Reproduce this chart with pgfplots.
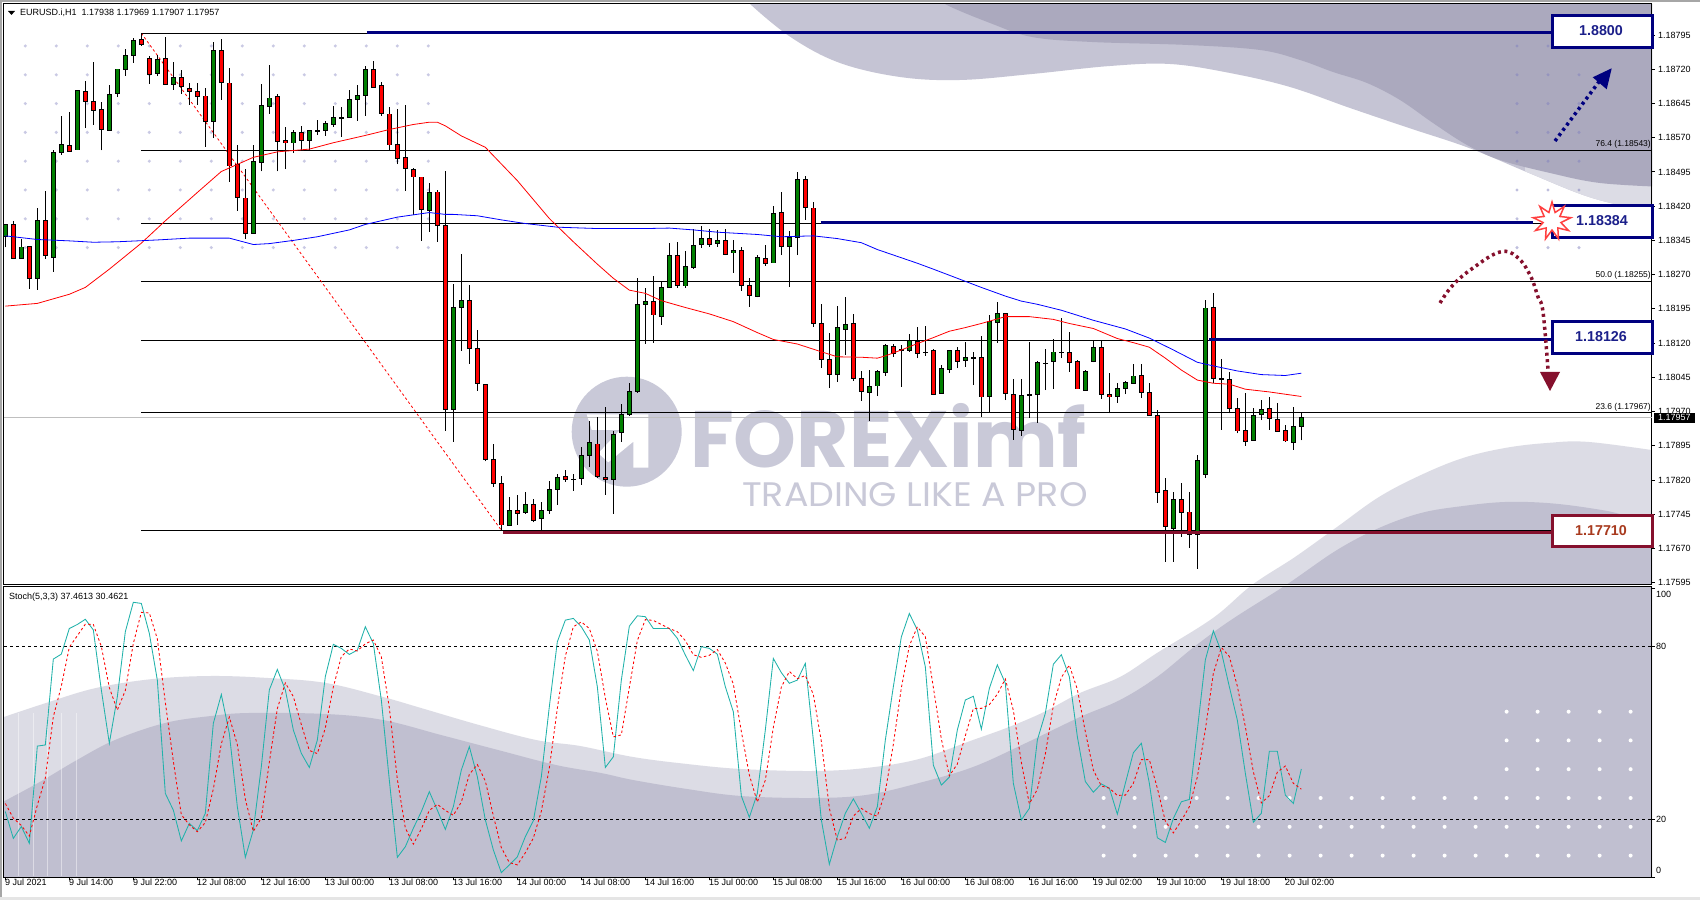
\documentclass[border=0pt]{standalone}
\usepackage{pgfplots}
\usepackage{pgfplotstable}
\usepackage{fontspec}
\setmainfont{Liberation Sans}
\newfontfamily\wmfont{Poppins}
\pgfplotsset{compat=1.18}
\usetikzlibrary{shapes.geometric}
\definecolor{navyl}{HTML}{00007F}
\definecolor{navyt}{HTML}{1B1F8A}
\definecolor{maroonl}{HTML}{85102D}
\definecolor{maroont}{HTML}{A83A1E}
\definecolor{wavedark}{HTML}{ABA9BE}
\definecolor{waveband}{HTML}{C5C4D4}
\definecolor{wavepale}{HTML}{DCDCE5}
\definecolor{wavemid}{HTML}{C0BFD0}
\definecolor{wmark}{HTML}{C9C9D8}
\definecolor{cgreen}{HTML}{008000}
\definecolor{cteal}{HTML}{20B2AA}
\newcommand{\fs}[1]{\fontsize{#1}{#1}\selectfont}
\pgfplotstableread{
i o h l c
0 1.18355 1.18381 1.18330 1.18381
1 1.18380 1.18388 1.18304 1.18306
2 1.18307 1.18348 1.18307 1.18332
3 1.18332 1.18332 1.18239 1.18263
4 1.18263 1.18415 1.18237 1.18390
5 1.18390 1.18453 1.18305 1.18312
6 1.18309 1.18543 1.18276 1.18538
7 1.18537 1.18618 1.18533 1.18555
8 1.18555 1.18626 1.18542 1.18542
9 1.18544 1.18674 1.18544 1.18674
10 1.18672 1.18694 1.18591 1.18649
11 1.18650 1.18736 1.18598 1.18631
12 1.18632 1.18648 1.18542 1.18588
13 1.18588 1.18686 1.18585 1.18667
14 1.18667 1.18720 1.18659 1.18720
15 1.18721 1.18764 1.18706 1.18751
16 1.18751 1.18789 1.18734 1.18783
17 1.18786 1.18799 1.18771 1.18776
18 1.18744 1.18748 1.18688 1.18710
19 1.18710 1.18751 1.18705 1.18742
20 1.18744 1.18791 1.18686 1.18686
21 1.18686 1.18736 1.18675 1.18702
22 1.18702 1.18718 1.18666 1.18682
23 1.18678 1.18689 1.18642 1.18671
24 1.18672 1.18689 1.18642 1.18662
25 1.18663 1.18678 1.18550 1.18608
26 1.18605 1.18779 1.18569 1.18761
27 1.18761 1.18786 1.18653 1.18691
28 1.18691 1.18722 1.18474 1.18509
29 1.18512 1.18554 1.18410 1.18439
30 1.18439 1.18501 1.18348 1.18361
31 1.18361 1.18554 1.18361 1.18518
32 1.18517 1.18687 1.18496 1.18641
33 1.18640 1.18729 1.18622 1.18658
34 1.18661 1.18665 1.18496 1.18564
35 1.18564 1.18593 1.18501 1.18559
36 1.18559 1.18588 1.18537 1.18582
37 1.18582 1.18596 1.18543 1.18564
38 1.18564 1.18586 1.18543 1.18586
39 1.18586 1.18608 1.18577 1.18586
40 1.18586 1.18606 1.18574 1.18602
41 1.18599 1.18639 1.18594 1.18615
42 1.18615 1.18637 1.18572 1.18615
43 1.18615 1.18675 1.18615 1.18654
44 1.18654 1.18686 1.18607 1.18663
45 1.18663 1.18727 1.18618 1.18720
46 1.18720 1.18738 1.18682 1.18682
47 1.18685 1.18692 1.18618 1.18623
48 1.18623 1.18637 1.18543 1.18555
49 1.18555 1.18634 1.18512 1.18525
50 1.18527 1.18641 1.18454 1.18503
51 1.18501 1.18503 1.18401 1.18485
52 1.18485 1.18485 1.18344 1.18413
53 1.18413 1.18471 1.18364 1.18452
54 1.18452 1.18455 1.18342 1.18378
55 1.18378 1.18497 1.17928 1.17975
56 1.17975 1.18249 1.17904 1.18198
57 1.18198 1.18315 1.18103 1.18214
58 1.18214 1.18247 1.18075 1.18109
59 1.18109 1.18149 1.18016 1.18032
60 1.18030 1.18030 1.17861 1.17865
61 1.17865 1.17899 1.17805 1.17813
62 1.17813 1.17829 1.17710 1.17722
63 1.17722 1.17782 1.17722 1.17754
64 1.17754 1.17787 1.17722 1.17749
65 1.17749 1.17794 1.17746 1.17767
66 1.17767 1.17778 1.17727 1.17733
67 1.17736 1.17772 1.17710 1.17754
68 1.17753 1.17818 1.17746 1.17800
69 1.17800 1.17833 1.17766 1.17827
70 1.17827 1.17842 1.17816 1.17821
71 1.17823 1.17833 1.17797 1.17823
72 1.17823 1.17892 1.17810 1.17874
73 1.17874 1.17949 1.17849 1.17903
74 1.17900 1.17957 1.17825 1.17828
75 1.17827 1.17979 1.17788 1.17823
76 1.17823 1.17927 1.17746 1.17922
77 1.17924 1.17986 1.17904 1.17965
78 1.17964 1.18033 1.17960 1.18014
79 1.18014 1.18262 1.18011 1.18205
80 1.18206 1.18240 1.18119 1.18211
81 1.18211 1.18268 1.18121 1.18182
82 1.18180 1.18255 1.18160 1.18242
83 1.18242 1.18339 1.18242 1.18312
84 1.18312 1.18341 1.18241 1.18246
85 1.18246 1.18321 1.18241 1.18288
86 1.18288 1.18371 1.18283 1.18336
87 1.18336 1.18376 1.18328 1.18350
88 1.18350 1.18369 1.18331 1.18338
89 1.18338 1.18367 1.18331 1.18345
90 1.18347 1.18371 1.18313 1.18316
91 1.18319 1.18345 1.18274 1.18323
92 1.18323 1.18330 1.18235 1.18247
93 1.18247 1.18262 1.18200 1.18225
94 1.18222 1.18312 1.18220 1.18308
95 1.18306 1.18334 1.18290 1.18294
96 1.18297 1.18420 1.18297 1.18406
97 1.18406 1.18452 1.18313 1.18333
98 1.18333 1.18366 1.18244 1.18352
99 1.18352 1.18494 1.18313 1.18479
100 1.18479 1.18486 1.18390 1.18417
101 1.18417 1.18429 1.18156 1.18163
102 1.18163 1.18206 1.18066 1.18084
103 1.18084 1.18142 1.18022 1.18052
104 1.18052 1.18201 1.18035 1.18155
105 1.18152 1.18221 1.18094 1.18163
106 1.18163 1.18184 1.18038 1.18043
107 1.18043 1.18059 1.17994 1.18016
108 1.18014 1.18061 1.17950 1.18027
109 1.18027 1.18061 1.18004 1.18059
110 1.18057 1.18118 1.18048 1.18116
111 1.18113 1.18118 1.18090 1.18098
112 1.18105 1.18115 1.18024 1.18105
113 1.18103 1.18139 1.18101 1.18125
114 1.18125 1.18156 1.18087 1.18099
115 1.18100 1.18157 1.18092 1.18100
116 1.18104 1.18106 1.18006 1.18008
117 1.18010 1.18073 1.18010 1.18065
118 1.18064 1.18104 1.18055 1.18104
119 1.18104 1.18111 1.18065 1.18081
120 1.18081 1.18122 1.18068 1.18089
121 1.18088 1.18100 1.18028 1.18088
122 1.18089 1.18135 1.17959 1.18003
123 1.18003 1.18181 1.17969 1.18168
124 1.18167 1.18210 1.18121 1.18185
125 1.18185 1.18187 1.17995 1.18009
126 1.18008 1.18041 1.17908 1.17930
127 1.17930 1.18041 1.17917 1.18005
128 1.18007 1.18122 1.17956 1.18007
129 1.18007 1.18080 1.17945 1.18078
130 1.18077 1.18107 1.18017 1.18077
131 1.18079 1.18130 1.18019 1.18100
132 1.18100 1.18174 1.18087 1.18100
133 1.18100 1.18144 1.18057 1.18077
134 1.18081 1.18083 1.18020 1.18020
135 1.18017 1.18060 1.18016 1.18060
136 1.18082 1.18125 1.18078 1.18111
137 1.18111 1.18125 1.17998 1.18007
138 1.18008 1.18054 1.17966 1.18003
139 1.18003 1.18032 1.17989 1.18021
140 1.18020 1.18038 1.18008 1.18034
141 1.18033 1.18074 1.18033 1.18049
142 1.18049 1.18074 1.18000 1.18011
143 1.18012 1.18032 1.17961 1.17961
144 1.17962 1.17973 1.17770 1.17794
145 1.17797 1.17824 1.17641 1.17718
146 1.17715 1.17793 1.17641 1.17778
147 1.17778 1.17813 1.17696 1.17750
148 1.17751 1.17793 1.17672 1.17701
149 1.17701 1.17874 1.17626 1.17863
150 1.17834 1.18214 1.17825 1.18198
151 1.18198 1.18229 1.18032 1.18043
152 1.18042 1.18086 1.17930 1.18042
153 1.18040 1.18056 1.17966 1.17977
154 1.17977 1.17999 1.17922 1.17928
155 1.17929 1.18010 1.17895 1.17905
156 1.17906 1.17977 1.17906 1.17962
157 1.17964 1.17995 1.17951 1.17975
158 1.17977 1.18001 1.17930 1.17955
159 1.17954 1.17988 1.17928 1.17928
160 1.17929 1.17940 1.17904 1.17906
161 1.17904 1.17979 1.17886 1.17938
162 1.17938 1.17969 1.17907 1.17957
}\candles
\pgfplotstableread{
i v
0 1.18201
4 1.18207
8 1.18227
10 1.18242
13 1.18282
17 1.18339
20 1.18388
24 1.18450
27 1.18496
31 1.18527
34 1.18539
38 1.18545
41 1.18559
45 1.18575
48 1.18588
51 1.18599
53 1.18604
54 1.18604
55 1.18596
57 1.18574
60 1.18549
64 1.18476
68 1.18393
71 1.18342
74 1.18293
76 1.18262
78 1.18236
80 1.18229
82 1.18213
85 1.18198
88 1.18184
91 1.18167
94 1.18143
96 1.18128
99 1.18118
102 1.18101
104 1.18090
107 1.18089
109 1.18087
110 1.18092
112 1.18105
114 1.18119
116 1.18132
118 1.18146
120 1.18154
122 1.18163
124 1.18173
125 1.18178
128 1.18178
131 1.18172
133 1.18163
136 1.18152
139 1.18130
141 1.18121
143 1.18111
145 1.18087
147 1.18061
149 1.18039
151 1.18032
153 1.18030
155 1.18019
158 1.18013
160 1.18008
162 1.18003
}\mared
\pgfplotstableread{
i v
0 1.18355
4 1.18347
8 1.18344
11 1.18341
14 1.18342
19 1.18346
23 1.18350
28 1.18350
31 1.18336
33 1.18338
36 1.18345
39 1.18353
43 1.18368
45 1.18380
49 1.18396
53 1.18406
55 1.18402
56 1.18402
59 1.18399
62 1.18390
65 1.18382
69 1.18374
74 1.18371
80 1.18371
83 1.18372
86 1.18368
89 1.18363
94 1.18358
97 1.18353
101 1.18355
104 1.18349
107 1.18340
109 1.18325
114 1.18295
116 1.18282
119 1.18262
122 1.18242
125 1.18223
127 1.18212
129 1.18205
132 1.18192
136 1.18170
140 1.18151
143 1.18131
146 1.18105
149 1.18078
151 1.18070
154 1.18059
157 1.18051
160 1.18049
162 1.18054
}\mablue
\pgfplotstableread{
i m s
0 22.7 25.5
1 13.4 20.4
2 17.5 17.9
3 11.7 14.2
4 45.4 24.9
5 45.8 34.3
6 75.6 55.6
7 77.3 66.2
8 86.2 79.7
9 87.6 83.7
10 89.4 87.7
11 85.7 87.6
12 64.9 80.0
13 46.4 65.7
14 62.5 57.9
15 85.1 64.7
16 95.3 81.0
17 94.9 91.8
18 84.5 91.6
19 68.3 82.6
20 29.0 60.6
21 23.2 40.2
22 12.5 21.6
23 18.6 18.1
24 16.1 15.7
25 22.1 18.9
26 53.3 30.5
27 63.3 46.2
28 49.8 55.5
29 24.4 45.9
30 6.8 27.0
31 16.3 15.8
32 38.3 20.5
33 64.9 39.8
34 72.0 58.4
35 64.9 67.3
36 51.0 62.6
37 42.9 52.9
38 38.0 43.9
39 47.5 42.8
40 69.5 51.7
41 80.7 65.9
42 79.3 76.5
43 77.2 79.1
44 78.7 78.4
45 86.8 80.9
46 81.0 82.2
47 61.4 76.4
48 33.6 58.7
49 6.8 33.9
50 10.5 17.0
51 16.9 11.4
52 22.7 16.7
53 29.6 23.1
54 23.2 25.2
55 16.5 23.1
56 24.4 21.4
57 37.1 26.0
58 45.2 35.6
59 34.8 39.0
60 19.8 33.3
61 9.4 21.3
62 1.5 10.2
63 4.2 5.0
64 7.0 4.2
65 14.0 8.4
66 19.5 13.5
67 34.8 22.8
68 59.1 37.8
69 81.6 58.5
70 89.1 76.6
71 89.7 86.8
72 86.8 88.5
73 82.2 86.2
74 66.0 78.3
75 38.0 62.1
76 41.7 48.6
77 68.3 49.3
78 87.0 65.7
79 90.6 82.0
80 90.3 89.3
81 86.2 89.0
82 86.2 87.6
83 86.2 86.2
84 82.8 85.1
85 77.0 82.0
86 71.6 77.1
87 79.9 76.2
88 79.3 76.9
89 77.3 78.9
90 66.0 74.2
91 57.3 66.9
92 28.1 50.5
93 20.7 35.4
94 29.0 26.0
95 51.0 33.6
96 75.8 51.9
97 70.9 65.9
98 67.2 71.3
99 68.3 68.8
100 74.1 69.9
101 47.5 63.3
102 19.8 47.1
103 4.4 23.9
104 14.0 12.7
105 22.1 13.5
106 27.1 21.1
107 22.1 23.8
108 16.9 22.0
109 24.4 21.1
110 47.5 29.6
111 66.0 46.0
112 83.3 65.6
113 91.4 80.2
114 85.7 86.8
115 72.9 83.3
116 38.8 65.8
117 31.9 47.9
118 34.6 35.1
119 51.0 39.2
120 61.4 49.0
121 62.7 58.4
122 51.3 58.5
123 65.4 59.8
124 73.6 63.4
125 67.2 68.7
126 32.5 57.8
127 19.8 39.8
128 23.8 25.4
129 47.5 30.4
130 56.8 42.7
131 73.8 59.4
132 77.1 69.2
133 69.5 73.5
134 48.7 65.1
135 33.1 50.4
136 29.4 37.1
137 32.3 31.6
138 30.8 30.8
139 21.8 28.3
140 32.5 28.4
141 43.1 32.5
142 46.4 40.7
143 32.5 40.7
144 13.6 30.8
145 12.0 19.4
146 20.3 15.3
147 26.1 19.5
148 26.9 24.4
149 51.0 34.7
150 75.3 51.1
151 85.4 70.6
152 78.1 79.6
153 66.0 76.5
154 54.4 66.2
155 36.0 52.1
156 19.0 36.5
157 22.1 25.7
158 43.6 28.2
159 43.6 36.4
160 28.4 38.5
161 25.5 32.5
162 37.46 30.46
}\stoch
\tikzset{px/.style={x=1pt,y=-1pt,yshift=900pt}}
\def\bandtop{(745,-5) (750,4) (792,38) (840,63) (900,77) (960,80) (1032,74) (1110,66) (1170,64) (1230,73) (1290,87) (1350,108) (1409,128) (1469,148) (1529,173) (1589,197) (1643,210) (1665,213)}
\def\darktop{(940,-5) (945,4) (990,23) (1032,37) (1092,42) (1188,45) (1260,50) (1300,60) (1333,72) (1367,83) (1400,100) (1433,123) (1467,145) (1500,160) (1550,173) (1600,183) (1665,187)}
\def\lowlight{(-5,720) (46,703) (96,688) (153,679) (211,676) (268,678) (326,683) (383,697) (421,708) (479,725) (536,740) (580,746) (633,757) (687,764) (741,769) (812,771) (866,768) (919,759) (973,740) (1009,727) (1044,712) (1080,693) (1120,677) (1157,653) (1213,618) (1252,585) (1295,557) (1337,527) (1379,497) (1421,475) (1463,458) (1505,448) (1547,443) (1589,442) (1665,452)}
\def\lowdark{(-5,806) (38,783) (77,760) (115,740) (165,723) (211,716) (249,713) (326,714) (383,720) (441,735) (498,750) (556,765) (601,773) (633,780) (687,789) (741,796) (812,798) (866,795) (919,783) (973,767) (1026,743) (1080,717) (1120,700) (1157,677) (1194,647) (1231,620) (1286,585) (1337,550) (1379,528) (1421,513) (1463,506) (1505,502) (1547,503) (1589,508) (1623,515) (1665,532)}
\begin{document}
\begin{tikzpicture}
\useasboundingbox (0,0) rectangle (1700pt,900pt);
\begin{scope}[px]
\fill[white] (0,0) rectangle (1700,900);
\fill[black!35] (0,0) rectangle (1700,2);
\fill[black!35] (0,0) rectangle (2,900);
\fill[black!10] (0,897) rectangle (1700,900);
% background waves
\begin{scope}
\clip (4,4) rectangle (1652,585) (4,587) rectangle (1652,877);
\fill[waveband] plot[smooth,tension=0.6] coordinates {\bandtop} -- (1665,-5) -- cycle;
\begin{scope}\clip (1525,150) rectangle (1665,300);
\fill[wavepale] plot[smooth,tension=0.6] coordinates {\bandtop} -- (1665,-5) -- cycle;
\end{scope}
\fill[wavedark] plot[smooth,tension=0.6] coordinates {\darktop} -- (1665,-5) -- cycle;
\fill[wavepale] plot[smooth,tension=0.6] coordinates {\lowlight} -- (1665,885) -- (-5,885) -- cycle;
\fill[wavemid] plot[smooth,tension=0.6] coordinates {\lowdark} -- (1665,885) -- (-5,885) -- cycle;
\end{scope}
% watermark
\fill[wmark] (626.7,431.7) circle (55);
\fill[white] (586.7,414.3) -- (648.3,414.3) -- (648.3,467.7) -- (633.3,467.7) -- (633.3,441.7) -- (608.3,462.3) -- (598.3,453.3) -- (620,430) -- (591.7,430) -- cycle;
\node[text=wmark,anchor=base west,inner sep=0] at (690,468) {\wmfont\fontseries{sb}\selectfont\fs{80}FOREXimf};
\node[text=wmark,anchor=base west,inner sep=0,xscale=1.07] at (742,507) {\wmfont\fs{34}TRADING LIKE A PRO};
% dots
\foreach \x in {25.3,56.3,...,430} \foreach \y in {46,74.8,...,250} \fill[black!50!blue!50!white,opacity=.42] (\x,\y) circle (1.7);
\foreach \x in {1517,1548,1579} \foreach \y in {46,74.8,...,250} \fill[black!50!blue!50!white,opacity=.5] (\x,\y) circle (1.7);
\foreach \x in {1103.6,1134.6,...,1635} \foreach \y in {798,826.8,855.6} \fill[white] (\x,\y) circle (2);
\foreach \x in {1506.6,1537.6,...,1635} \foreach \y in {711.7,740.4,769.2} \fill[white] (\x,\y) circle (2);
\foreach \x in {18,33,47,61,76} \draw[white,opacity=.45,line width=1pt] (\x,713) -- (\x,876);
\end{scope}
% main price panel
\begin{axis}[
  at={(4pt,315pt)},anchor=south west,scale only axis,width=1648pt,height=581pt,
  xmin=-0.166,xmax=205.83,ymin=1.17590,ymax=1.18863,
  axis line style={black,line width=1pt},
  xtick=\empty,
  ytick={1.17595,1.17670,1.17745,1.17820,1.17895,1.17970,1.18045,1.18120,1.18195,1.18270,1.18345,1.18420,1.18495,1.18570,1.18645,1.18720,1.18795},
  yticklabels={1.17595,1.17670,1.17745,1.17820,1.17895,1.17970,1.18045,1.18120,1.18195,1.18270,1.18345,1.18420,1.18495,1.18570,1.18645,1.18720,1.18795},
  ytick pos=right,tick align=outside,major tick length=3pt,
  tick style={black,line width=1pt},
  y tick label style={font=\fs{9},anchor=west,inner sep=0pt,xshift=3pt},
]
% fibonacci and level lines
\addplot[black!25,line width=1.5pt] coordinates {(-0.166,1.17957)(205.83,1.17957)};
\addplot[black,line width=1pt] coordinates {(17,1.18799)(205.83,1.18799)};
\addplot[black,line width=1pt] coordinates {(17,1.18543)(205.83,1.18543)};
\addplot[black,line width=1pt] coordinates {(17,1.18382)(205.83,1.18382)};
\addplot[black,line width=1pt] coordinates {(17,1.18255)(205.83,1.18255)};
\addplot[black,line width=1pt] coordinates {(17,1.18126)(205.83,1.18126)};
\addplot[black,line width=1pt] coordinates {(17,1.17967)(205.83,1.17967)};
\addplot[black,line width=1pt] coordinates {(17,1.17710)(205.83,1.17710)};
\addplot[red,line width=0.8pt,dash pattern=on 2.5pt off 2.5pt] coordinates {(17,1.18799)(62,1.17710)};
% wicks
\addplot[draw=none,mark=none,forget plot,error bars/.cd,y dir=plus,y explicit,error mark=none,error bar style={black,line width=1pt}]
  table[x=i,y=l,y error expr={\thisrow{h}-\thisrow{l}}] {\candles};
% bodies
\addplot[draw=none,mark=none,forget plot,error bars/.cd,y dir=both,y explicit,error mark=none,error bar style={black,line width=5pt}]
  table[x=i,y expr={(\thisrow{o}+\thisrow{c})/2},y error expr={abs(\thisrow{o}-\thisrow{c})/2+0.00001}] {\candles};
\addplot[draw=none,mark=none,forget plot,error bars/.cd,y dir=both,y explicit,error mark=none,error bar style={cgreen,line width=3pt}]
  table[x expr={\thisrow{c}>=\thisrow{o}?\thisrow{i}:nan},y expr={(\thisrow{o}+\thisrow{c})/2},y error expr={max(abs(\thisrow{o}-\thisrow{c})/2-0.00001,0)}] {\candles};
\addplot[draw=none,mark=none,forget plot,error bars/.cd,y dir=both,y explicit,error mark=none,error bar style={red,line width=3pt}]
  table[x expr={\thisrow{c}<\thisrow{o}?\thisrow{i}:nan},y expr={(\thisrow{o}+\thisrow{c})/2},y error expr={max(abs(\thisrow{o}-\thisrow{c})/2-0.00001,0)}] {\candles};
% moving averages
\addplot[red,line width=0.8pt,mark=none] table[x=i,y=v] {\mared};
\addplot[blue,line width=0.8pt,mark=none] table[x=i,y=v] {\mablue};
% drawn levels
\addplot[navyl,line width=3pt] coordinates {(45.2,1.18800)(193.3,1.18800)};
\addplot[navyl,line width=3pt] coordinates {(101.9,1.18384)(191,1.18384)};
\addplot[navyl,line width=3pt] coordinates {(150.5,1.18128)(193.3,1.18128)};
\addplot[maroonl,line width=3.5pt] coordinates {(62.25,1.17705)(193.3,1.17705)};
\end{axis}
% stochastic panel
\begin{axis}[
  at={(4pt,23pt)},anchor=south west,scale only axis,width=1648pt,height=290pt,
  xmin=-0.166,xmax=205.83,ymin=0,ymax=100.6,
  axis line style={black,line width=1pt},
  xtick={0,8,...,160},
  xticklabels={9 Jul 2021,9 Jul 14:00,9 Jul 22:00,12 Jul 08:00,12 Jul 16:00,13 Jul 00:00,13 Jul 08:00,13 Jul 16:00,14 Jul 00:00,14 Jul 08:00,14 Jul 16:00,15 Jul 00:00,15 Jul 08:00,15 Jul 16:00,16 Jul 00:00,16 Jul 08:00,16 Jul 16:00,19 Jul 02:00,19 Jul 10:00,19 Jul 18:00,20 Jul 02:00},
  xtick pos=bottom,
  ytick={0,20,80,100},yticklabels={,20,80,},
  ytick pos=right,tick align=outside,major tick length=3pt,
  tick style={black,line width=1pt},
  x tick label style={font=\fs{9},anchor=north west,inner sep=0pt,xshift=-0.5pt,yshift=1pt},
  y tick label style={font=\fs{9},anchor=west,inner sep=0pt,xshift=1pt},
]
\addplot[black,line width=1pt,dash pattern=on 3pt off 3pt] coordinates {(-0.166,80)(205.83,80)};
\addplot[black,line width=1pt,dash pattern=on 3pt off 3pt] coordinates {(-0.166,20)(205.83,20)};
\addplot[cteal,line width=0.85pt,mark=none] table[x=i,y=m] {\stoch};
\addplot[red,line width=0.85pt,mark=none,dash pattern=on 2.5pt off 2.5pt] table[x=i,y=s] {\stoch};
\end{axis}
% annotations
\begin{scope}[px]
\fill[black] (8,11) -- (15,11) -- (11.5,15) -- cycle;
\node[anchor=west,inner sep=0,font=\fs{9}] at (20,12.7) {EURUSD.i,H1\ \ 1.17938 1.17969 1.17907 1.17957};
\node[anchor=west,inner sep=0,font=\fs{9}] at (9,596.7) {Stoch(5,3,3) 37.4613 30.4621};
\node[anchor=east,inner sep=0,font=\fs{8.5}] at (1651,144) {76.4 (1.18543)};
\node[anchor=east,inner sep=0,font=\fs{8.5}] at (1651,275.5) {50.0 (1.18255)};
\node[anchor=east,inner sep=0,font=\fs{8.5}] at (1651,407.5) {23.6 (1.17967)};
\node[anchor=west,inner sep=0,font=\fs{9}] at (1656,594) {100};
\node[anchor=west,inner sep=0,font=\fs{9}] at (1656,870) {0};
\fill[black] (1654,412.7) rectangle (1695,422.7);
\node[text=white,anchor=west,inner sep=0,font=\fs{9}] at (1658,417.7) {1.17957};
% boxes
\draw[navyl,fill=white,line width=3pt] (1552,16) rectangle (1652,48);
\node[text=navyt,font=\bfseries\fs{14.3}] at (1601,31) {1.8800};
\draw[navyl,fill=white,line width=3pt] (1552,206) rectangle (1652,238);
\node[text=navyt,font=\bfseries\fs{14.3}] at (1602,221) {1.18384};
\draw[navyl,fill=white,line width=3pt] (1552,322) rectangle (1652,353.5);
\node[text=navyt,font=\bfseries\fs{14.3}] at (1601,337) {1.18126};
\draw[maroonl,fill=white,line width=3pt] (1552,516) rectangle (1652,547);
\node[text=maroont,font=\bfseries\fs{14.3}] at (1601,531) {1.17710};
\node[star,star points=9,star point ratio=2.1,minimum size=38pt,inner sep=0,draw={rgb,255:red,255;green,64;blue,64},fill=white,line width=1.5pt] at (1552,221) {};
% arrows
\draw[navyl,line width=3.5pt,dash pattern=on 3pt off 3.5pt] (1555,141) -- (1601,79);
\fill[navyl] (1611.7,68.3) -- (1592.7,77.3) -- (1606.7,89.3) -- cycle;
\draw[maroonl,line width=3.5pt,dash pattern=on 3pt off 3.5pt] plot[smooth,tension=0.7] coordinates {(1440,303) (1453,285) (1473,268) (1500,252) (1517,257) (1530,275) (1538,297) (1543,312) (1548,370)};
\fill[maroonl] (1540,372) -- (1560,372) -- (1550,391) -- cycle;
\end{scope}
\end{tikzpicture}
\end{document}
